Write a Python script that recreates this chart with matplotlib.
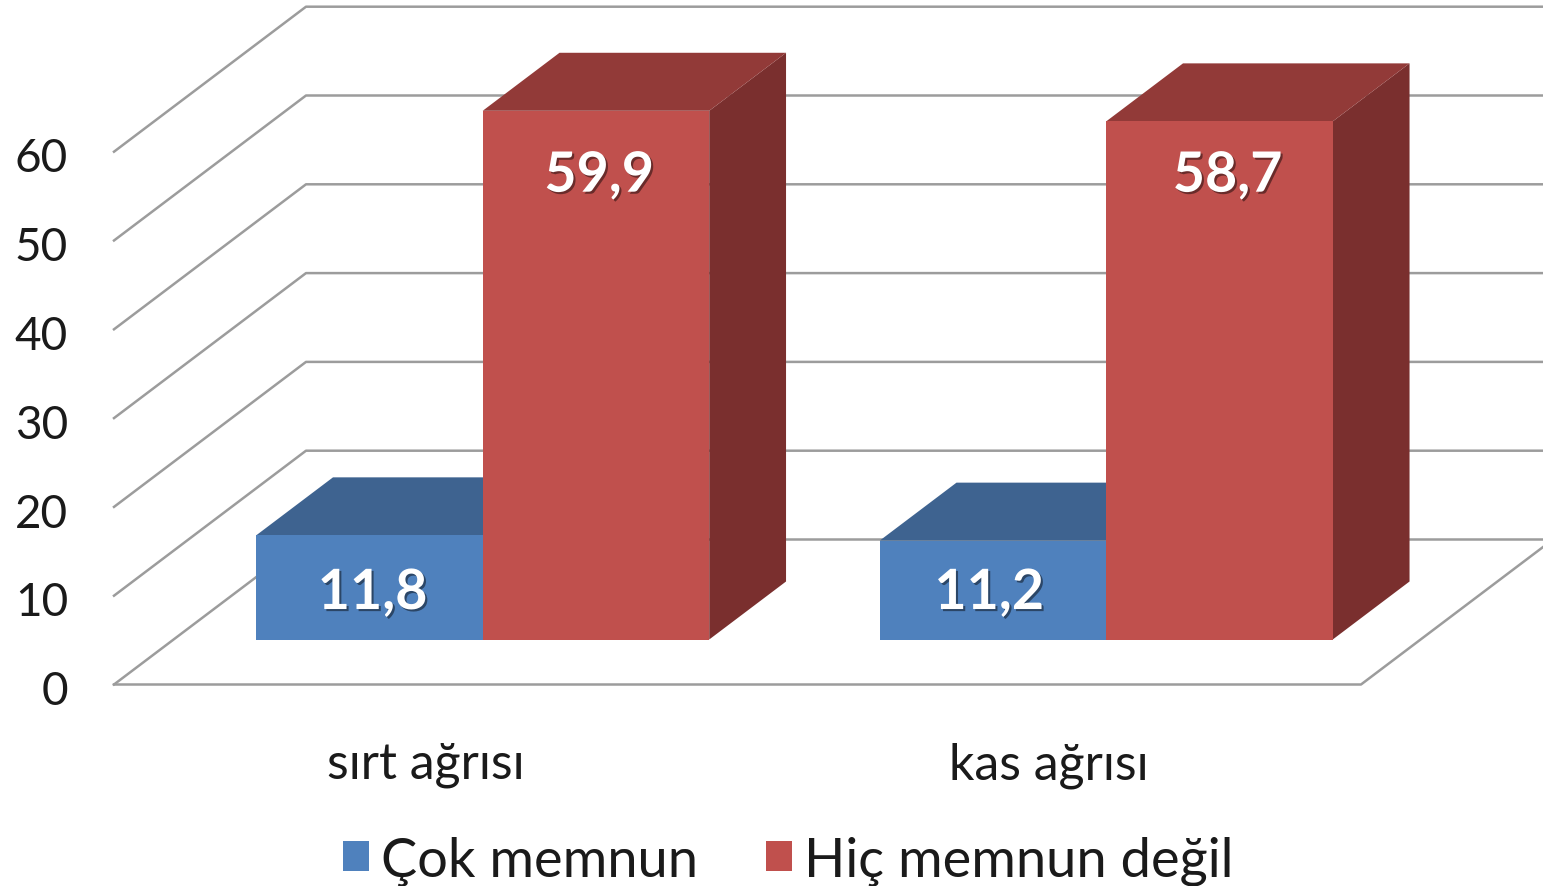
import matplotlib
matplotlib.use('Agg')
import matplotlib.pyplot as plt
import matplotlib.patheffects as pe
from matplotlib.patches import Patch
from matplotlib.transforms import ScaledTranslation

categories = ['sırt ağrısı', 'kas ağrısı']
series_names = ['Çok memnun', 'Hiç memnun değil']
cok_memnun = [11.8, 11.2]
hic_memnun = [59.9, 58.7]
cok_labels = ['11,8', '11,2']
hic_labels = ['59,9', '58,7']
y_ticks = [0, 10, 20, 30, 40, 50, 60]

W, H = 1543, 887
PX_X = 623.5   # pixels per category
PX_Y = 8.88    # pixels per value unit
X0, Y0 = 114, 685.5

plt.rcParams['font.family'] = ['Lato', 'DejaVu Sans']

fig = plt.figure(figsize=(W / 100, H / 100), dpi=100)
ymax = 77
ax = fig.add_axes([X0 / W, (H - Y0) / H, (W - X0) / W, ymax * PX_Y / H])
ax.set_xlim(0, (W - X0) / PX_X)
ax.set_ylim(0, ymax)
for s in ax.spines.values():
    s.set_visible(False)


def shift(x, y, d):
    # oblique projection: d=0 is the front of the floor, d=1 the back wall
    return x + d * 192 / PX_X, y + d * 145 / PX_Y


grid_col = '#9c9c9c'
for v in y_ticks:
    bx, by = shift(0, v, 1)
    ex, ey = shift(2, v, 1)
    ax.plot([0, bx, ex], [v, by, ey], color=grid_col, lw=1.8, clip_on=False, zorder=1)
# floor front edge and right edge
ax.plot([0, 2, shift(2, 0, 1)[0]], [0, 0, shift(2, 0, 1)[1]], color=grid_col, lw=1.8,
        clip_on=False, zorder=1)

D_FRONT = 45 / 145
D_BACK = 103 / 145
WIDTH = 0.3633
START = 0.1325
BAR_SCALE = 0.994  # bars stand further back than the front axis scale
base = shift(0, 0, D_FRONT)[1]
xoff = shift(0, 0, D_FRONT)[0]


def box(left, value, front, top, side, z):
    l = left + xoff
    r = l + WIDTH
    value = value * BAR_SCALE
    h = base + value
    dx = (D_BACK - D_FRONT) * 192 / PX_X
    dy = (D_BACK - D_FRONT) * 145 / PX_Y
    ax.fill([r, r + dx, r + dx, r], [base, base + dy, h + dy, h], color=side, lw=0, zorder=z)
    ax.fill([l, l + dx, r + dx, r], [h, h + dy, h + dy, h], color=top, lw=0, zorder=z)
    ax.bar(l, value, WIDTH, bottom=base, align='edge', color=front, lw=0, zorder=z)


for i in range(len(categories)):
    box(i + START, cok_memnun[i], '#4F81BD', '#3E6390', '#3A5C85', 2)
    box(i + START + WIDTH, hic_memnun[i], '#C0504D', '#923A38', '#7A2F2E', 3)

ax.set_yticks(y_ticks)
ax.set_xticks([i + 0.5 for i in range(len(categories))])
ax.set_xticklabels(categories)
ax.tick_params(axis='y', length=0, pad=33, labelsize=33, labelcolor='#1a1a1a')
ax.tick_params(axis='x', length=0, pad=41, labelsize=36, labelcolor='#1a1a1a')
down = ScaledTranslation(0, -2 / 72, fig.dpi_scale_trans)
for t in ax.get_yticklabels():
    t.set_transform(t.get_transform() + down)

# value labels sit at a fixed height inside the bars
shadow = [pe.withSimplePatchShadow(offset=(1.5, -1.5), shadow_rgbFace='#000000', alpha=0.45)]
label_nudge = [[0.005, -0.006], [0.005, 0.013]]
for i in range(len(categories)):
    for j, (lab, y) in enumerate([(cok_labels[i], 10.3), (hic_labels[i], 57.3)]):
        x = i + START + xoff + WIDTH * (j + 0.5) + label_nudge[j][i]
        ax.text(x, y, lab, color='white', fontsize=40, fontweight='bold', ha='center',
                va='center', path_effects=shadow, zorder=5)

handles = [Patch(color='#4F81BD', lw=0), Patch(color='#C0504D', lw=0)]
fig.legend(handles, series_names, loc='center', bbox_to_anchor=(788 / W, 1 - 861 / H),
           frameon=False, fontsize=39, ncol=2, handlelength=0.48, handleheight=0.46,
           handletextpad=0.22, columnspacing=1.26, labelcolor='#1a1a1a')

fig.savefig('out.png', dpi=100)
plt.close()
